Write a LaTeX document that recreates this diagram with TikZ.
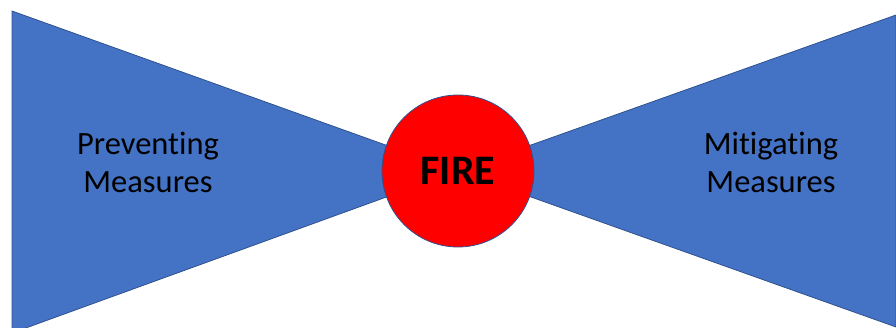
\documentclass[tikz,border=0pt]{standalone}
\usepackage{fontspec}
\setmainfont{Carlito}[Ligatures=NoCommon]
\usepackage{tikz}
\usetikzlibrary{positioning}

\definecolor{wingblue}{HTML}{4472C4}
\definecolor{edgeblue}{HTML}{2F528F}
\definecolor{firered}{HTML}{FF0000}

\begin{document}
\begin{tikzpicture}[
    x=1pt, y=-1pt,
    wing/.style={fill=wingblue, draw=edgeblue, line width=0.8pt},
    hub/.style={circle, fill=firered, draw=edgeblue, line width=0.8pt, minimum size=152pt, inner sep=0pt, font=\fontsize{42}{50}\selectfont\bfseries},
    label/.style={align=center, font=\fontsize{32.5}{38}\selectfont}
]
    \useasboundingbox (0,0) rectangle (896,327);
    \begin{scope}
        \clip (0,0) rectangle (896,327);
        \filldraw[wing] (12,11) -- (458,171) -- (12,333) -- cycle;
        \filldraw[wing] (896,15) -- (458,171) -- (896,327) -- cycle;
    \end{scope}

    \node[hub] (fire) at (458,171) {FIRE};
    \node[label] (prevent) at (148,162) {Preventing\\Measures};
    \node[label] (mitigate) at (771,162) {Mitigating\\Measures};
\end{tikzpicture}
\end{document}
